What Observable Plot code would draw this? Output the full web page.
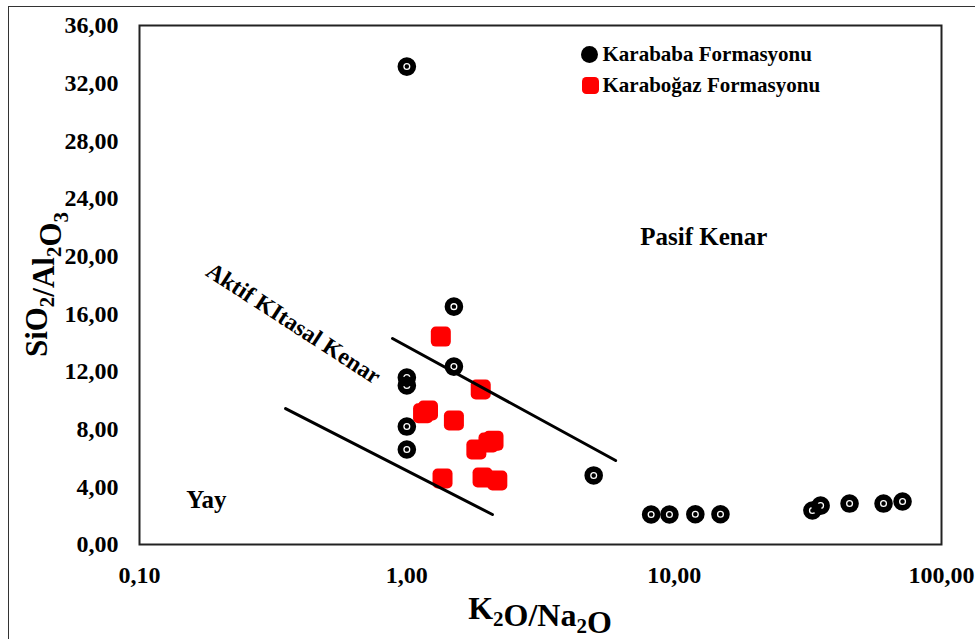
<!DOCTYPE html>
<html>
<head>
<meta charset="utf-8">
<script src="https://cdn.jsdelivr.net/npm/d3@7"></script>
<script src="https://cdn.jsdelivr.net/npm/@observablehq/plot@0.6"></script>
<style>
  html, body { margin: 0; padding: 0; background: white; }
  #wrap { position: relative; width: 975px; height: 639px; overflow: hidden; }
  #border { position: absolute; left: 8px; top: 6px; width: 1000px; height: 700px;
            border-left: 1.5px solid #333; border-top: 1.5px solid #333; pointer-events: none; }
</style>
</head>
<body>
<div id="wrap"><div id="border"></div></div>
<script>
// ---- data ----
const karababaX = [1.0, 1.5, 1.5, 1.0, 1.0, 1.0, 1.0, 5.0, 8.2, 9.6, 12.0, 14.9, 32.9, 35.3, 45.3, 60.7, 71.5];
const karababaY = [33.15, 16.5, 12.34, 11.58, 11.03, 8.18, 6.59, 4.79, 2.08, 2.08, 2.1, 2.1, 2.36, 2.7, 2.84, 2.84, 2.98];
const karabogazX = [1.34, 1.89, 1.15, 1.2, 1.5, 1.82, 2.02, 2.11, 1.36, 1.92, 2.18];
const karabogazY = [14.42, 10.75, 9.1, 9.3, 8.6, 6.59, 7.07, 7.2, 4.58, 4.65, 4.44];
const upperLineX = [0.884, 6.04];
const upperLineY = [14.29, 5.83];
const lowerLineX = [0.352, 2.09];
const lowerLineY = [9.43, 2.08];
const xTicks = [0.1, 1, 10, 100];
const yTicks = [0, 4, 8, 12, 16, 20, 24, 28, 32, 36];
const seriesNames = ["Karababa Formasyonu", "Karaboğaz Formasyonu"];
const fieldLabels = ["Pasif Kenar", "Yay", "Aktif KItasal Kenar"];
const fieldLabelX = [12.9, 0.178, 0.377];
const fieldLabelY = [21.36, 3.12, 15.33];

// ---- tables ----
const karababa = karababaX.map((x, i) => ({x, y: karababaY[i]}));
const karabogaz = karabogazX.map((x, i) => ({x, y: karabogazY[i]}));
const upperLine = upperLineX.map((x, i) => ({x, y: upperLineY[i]}));
const lowerLine = lowerLineX.map((x, i) => ({x, y: lowerLineY[i]}));
const fields = fieldLabels.map((t, i) => ({t, x: fieldLabelX[i], y: fieldLabelY[i]}));

const fmt = d => d.toFixed(2).replace(".", ",");

// black disc with a thin white ring (nonzero winding)
const ringSymbol = {
  draw(ctx, size) {
    const r = Math.sqrt(size / Math.PI);
    const ro = r * 0.38, ri = r * 0.24;
    ctx.moveTo(r, 0); ctx.arc(0, 0, r, 0, 2 * Math.PI, false);
    ctx.moveTo(ro, 0); ctx.arc(0, 0, ro, 0, -2 * Math.PI, true);
    ctx.moveTo(ri, 0); ctx.arc(0, 0, ri, 0, 2 * Math.PI, false);
  }
};
// rounded square
const roundSquare = {
  draw(ctx, size) {
    const h = Math.sqrt(size / Math.PI);
    const k = h * 0.5;
    ctx.moveTo(-h + k, -h);
    ctx.arcTo(h, -h, h, h, k);
    ctx.arcTo(h, h, -h, h, k);
    ctx.arcTo(-h, h, -h, -h, k);
    ctx.arcTo(-h, -h, h, -h, k);
    ctx.closePath();
  }
};

const font = "'Liberation Serif', 'Times New Roman', serif";

const chart = Plot.plot({
  width: 975,
  height: 639,
  marginLeft: 139,
  marginRight: 34,
  marginTop: 25,
  marginBottom: 95,
  style: {fontFamily: font, fontWeight: "bold", fontSize: "24px", color: "#000", background: "transparent"},
  x: {type: "log", domain: [0.1, 100], ticks: xTicks, tickFormat: fmt, label: null, tickSize: 0, tickPadding: 21},
  y: {domain: [0, 36], ticks: yTicks, tickFormat: fmt, label: null, tickSize: 0, tickPadding: 21},
  marks: [
    Plot.frame({stroke: "#222", strokeWidth: 2}),
    Plot.dot(karababa, {x: "x", y: "y", symbol: ringSymbol, r: 9.3, fill: "black", stroke: "none"}),
    Plot.dot(karabogaz, {x: "x", y: "y", symbol: roundSquare, r: 10, fill: "#ff0000", stroke: "none"}),
    Plot.line(upperLine, {x: "x", y: "y", stroke: "black", strokeWidth: 3}),
    Plot.line(lowerLine, {x: "x", y: "y", stroke: "black", strokeWidth: 3}),
    Plot.text(fields.slice(0, 2), {x: "x", y: "y", text: "t", fontSize: 25, fill: "black"}),
    Plot.text(fields.slice(2), {x: "x", y: "y", text: "t", fontSize: 23.5, rotate: 33, fill: "black"}),
    // legend
    Plot.dot([seriesNames[0]], {frameAnchor: "top-left", dx: 450, dy: 29, r: 8.5, fill: "black", stroke: "none"}),
    Plot.dot([seriesNames[1]], {frameAnchor: "top-left", dx: 451, dy: 60, symbol: roundSquare, r: 8.5, fill: "#ff0000", stroke: "none"}),
    Plot.text([seriesNames[0]], {frameAnchor: "top-left", dx: 463, dy: 29, text: d => d, textAnchor: "start", lineAnchor: "middle", fontSize: 21, fill: "black"}),
    Plot.text([seriesNames[1]], {frameAnchor: "top-left", dx: 463, dy: 60, text: d => d, textAnchor: "start", lineAnchor: "middle", fontSize: 21, fill: "black"})
  ]
});

document.getElementById("wrap").prepend(chart);

// axis titles with subscripts
const svg = d3.select(chart);
const xr = chart.scale("x").range, yr = chart.scale("y").range;
const xMid = (xr[0] + xr[1]) / 2, yMid = (yr[0] + yr[1]) / 2;

function subLabel(sel, parts) {
  parts.forEach(([t, sub]) => {
    sel.append("tspan").text(t);
    if (sub) {
      sel.append("tspan").attr("font-size", 21).attr("dy", 7).text(sub);
      sel.append("tspan").attr("dy", -7).text("");
    }
  });
}
const xl = svg.append("text").attr("x", xMid).attr("y", 619).attr("text-anchor", "middle")
  .attr("font-size", 32).attr("font-family", font).attr("font-weight", "bold").attr("fill", "black");
subLabel(xl, [["K", "2"], ["O/Na", "2"], ["O", null]]);

const yl = svg.append("text").attr("transform", `translate(47,${yMid}) rotate(-90)`).attr("text-anchor", "middle")
  .attr("font-size", 31).attr("font-family", font).attr("font-weight", "bold").attr("fill", "black");
subLabel(yl, [["SiO", "2"], ["/Al", "2"], ["O", "3"]]);
</script>
</body>
</html>
